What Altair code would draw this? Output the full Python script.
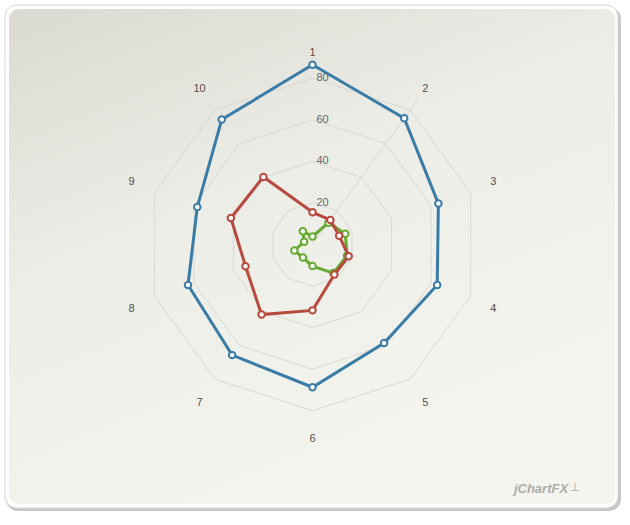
import altair as alt
import pandas as pd

# ---------------- data ----------------
categories = ["1", "2", "3", "4", "5", "6", "7", "8", "9", "10"]
series_names = ["Series 1", "Series 2", "Series 3"]
series1_values = [86.5, 75.1, 63.7, 63.1, 58.6, 68.7, 65.8, 63.0, 58.3, 74.3]
series2_values = [15.5, 14.6, 13.5, 18.3, 17.9, 31.7, 41.7, 33.9, 41.3, 40.2]
series3_values = [3.8, 13.0, 16.6, 17.5, 17.0, 10.4, 7.8, 9.2, 4.2, 7.9]
grid_levels = [20, 40, 60, 80]
grid_labels = ["20", "40", "60", "80"]
axis_max = 86.5
label_radius = 90

series_colors = ["#3a7ca6", "#b8493e", "#68a932"]

# ---------------- layout ----------------
W, H = 630, 525
CX, CY = 312.5, 244.5
K = 2.078  # pixels per unit
LBL_DX = 3.0 / K      # horizontal outward offset of category labels
LBL_DY_UP = 4.5 / K   # vertical outward offset, upper labels
LBL_DY_DN = 7.0 / K   # vertical outward offset, lower labels
xscale = alt.Scale(domain=[-CX / K, (W - CX) / K], nice=False, zero=False)
yscale = alt.Scale(domain=[-(H - CY) / K, CY / K], nice=False, zero=False)
N = len(categories)

def polar(chart, rfield):
    return chart.transform_calculate(
        ang=f"datum.idx * 2 * PI / {N}"
    ).transform_calculate(
        x=f"datum.{rfield} * sin(datum.ang)",
        y=f"datum.{rfield} * cos(datum.ang)",
    )

X = alt.X("x:Q", scale=xscale, axis=None)
Y = alt.Y("y:Q", scale=yscale, axis=None)

one = pd.DataFrame({"a": [0]})

# background panel
shadow = alt.Chart(one).mark_rect(cornerRadius=12, color="#9a9a9a", opacity=0.55).encode(
    x=alt.value(6), x2=alt.value(621), y=alt.value(7), y2=alt.value(511))
frame = alt.Chart(one).mark_rect(cornerRadius=12, color="#ffffff", stroke="#d4d4d4", strokeWidth=1).encode(
    x=alt.value(5), x2=alt.value(618), y=alt.value(5), y2=alt.value(508))
panel = alt.Chart(one).mark_rect(
    cornerRadius=10,
    color=alt.LinearGradient(
        gradient="linear", x1=0, y1=0, x2=0.5, y2=1,
        stops=[alt.GradientStop(color="#dadad3", offset=0),
               alt.GradientStop(color="#ededE7", offset=0.45),
               alt.GradientStop(color="#f5f5f0", offset=1)],
    ),
).encode(x=alt.value(9), x2=alt.value(615), y=alt.value(9), y2=alt.value(504))

# grid polygons
grid_df = pd.DataFrame([{"level": lv, "idx": i} for lv in grid_levels for i in range(N)])
grid = polar(alt.Chart(grid_df), "level").mark_line(
    interpolate="linear-closed", stroke="#d9d9d5", strokeWidth=1
).encode(x=X, y=Y, detail="level:N", order="idx:Q")

# single spoke (axis 2)
spoke_df = pd.DataFrame({"idx": [1], "r0": [0], "r1": [axis_max]})
spoke = alt.Chart(spoke_df).transform_calculate(
    ang=f"datum.idx * 2 * PI / {N}"
).transform_calculate(
    x="datum.r0 * sin(datum.ang)", y="datum.r0 * cos(datum.ang)",
    x2="datum.r1 * sin(datum.ang)", y2="datum.r1 * cos(datum.ang)",
).mark_rule(stroke="#d9d9d5", strokeWidth=1).encode(x=X, y=Y, x2="x2:Q", y2="y2:Q")

# grid value labels
gl_df = pd.DataFrame({"level": grid_levels, "label": grid_labels, "idx": [0] * len(grid_levels)})
grid_text = polar(alt.Chart(gl_df), "level").mark_text(
    align="left", baseline="middle", dx=4, fontSize=11, color="#666666", font="Liberation Sans"
).encode(x=X, y=Y, text="label:N")

# category labels
cat_df = pd.DataFrame({"cat": categories, "idx": list(range(N)), "r": [label_radius] * N})
cat_text = alt.Chart(cat_df).transform_calculate(
    ang=f"datum.idx * 2 * PI / {N}"
).transform_calculate(
    s="sin(datum.ang)", c="cos(datum.ang)"
).transform_calculate(
    x=f"datum.r * datum.s + (abs(datum.s) > 0.01 ? (datum.s > 0 ? {LBL_DX} : -{LBL_DX}) : 0)",
    y=f"datum.r * datum.c + (abs(datum.c) > 0.01 ? (datum.c > 0 ? {LBL_DY_UP} : -{LBL_DY_DN}) : 0)",
).mark_text(
    align="center", baseline="middle", fontSize=11, color="#505050", font="Liberation Sans"
).encode(x=X, y=Y, text="cat:N")

# series
all_values = [series1_values, series2_values, series3_values]
series_layers = []
for name, vals, col in reversed(list(zip(series_names, all_values, series_colors))):
    df = pd.DataFrame({"series": name, "idx": list(range(N)), "value": vals, "cat": categories})
    base = polar(alt.Chart(df), "value")
    line = base.mark_line(interpolate="linear-closed", stroke=col, strokeWidth=3).encode(
        x=X, y=Y, order="idx:Q")
    pts = base.mark_point(filled=True, fill="white", stroke=col, strokeWidth=2, size=42, opacity=1).encode(
        x=X, y=Y)
    series_layers += [line, pts]

watermark = alt.Chart(one).mark_text(
    text="jChartFX", fontSize=13, fontStyle="italic", fontWeight="bold", color="#ababab",
    font="Liberation Sans", align="center", baseline="middle"
).encode(x=alt.value(541), y=alt.value(489))
wm_icon = alt.Chart(one).mark_text(
    text="⊥", fontSize=12, color="#ababab", font="DejaVu Sans", align="center", baseline="middle"
).encode(x=alt.value(575), y=alt.value(487))

chart = alt.layer(
    shadow, frame, panel, grid, spoke, *series_layers, grid_text, cat_text, watermark, wm_icon
).properties(
    width=W, height=H, background="white", padding=0,
    autosize=alt.AutoSizeParams(type="none"),
).configure_view(stroke=None)

chart.save("out.html", embed_options={"renderer": "svg", "actions": False})
